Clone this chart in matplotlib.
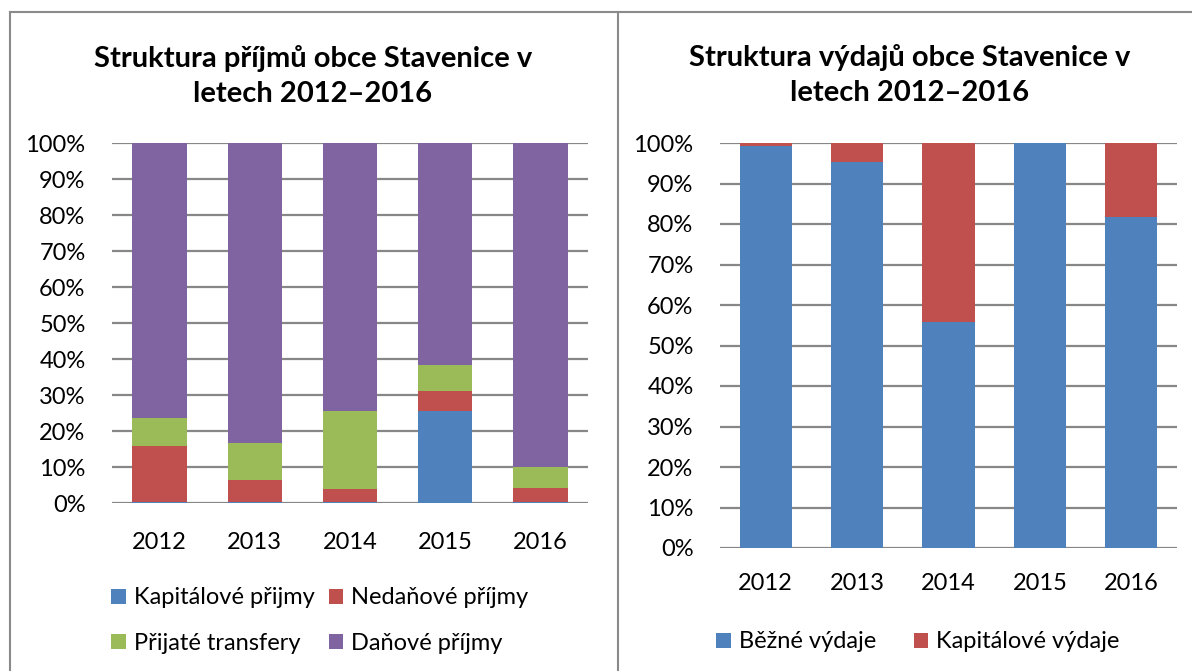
import numpy as np
import matplotlib.pyplot as plt
from matplotlib.lines import Line2D

# --- data (shares in %) ---
years = ["2012", "2013", "2014", "2015", "2016"]

# revenue structure
kapitalove_prijmy = [0.2, 0.3, 0.2, 25.5, 0.2]
nedanove_prijmy = [15.5, 6.2, 3.8, 5.7, 3.9]
prijate_transfery = [8.0, 10.3, 21.6, 7.2, 5.9]
danove_prijmy = [76.3, 83.2, 74.4, 61.6, 90.0]

# expenditure structure
bezne_vydaje = [99.2, 95.3, 55.7, 99.9, 81.8]
kapitalove_vydaje = [0.8, 4.7, 44.3, 0.1, 18.2]

BLUE, RED, GREEN, PURPLE = "#4F81BD", "#C0504D", "#9BBB59", "#8064A2"
GRID = "#878787"
FONT = "Lato"
TICK_FS = 17
TITLE_FS = 21

W, H = 1192, 671
fig = plt.figure(figsize=(W / 100, H / 100), dpi=100)


def fx(px):
    return px / W


def fy(py):
    return 1 - py / H


def style_axes(ax, xpad):
    ax.set_ylim(0, 100)
    ax.set_xlim(-0.5, 4.5)
    ax.set_yticks(np.arange(0, 101, 10))
    ax.set_yticklabels([f"{v}%" for v in range(0, 101, 10)], fontsize=TICK_FS, family=FONT)
    ax.set_xticks(range(len(years)))
    ax.set_xticklabels(years, fontsize=TICK_FS, family=FONT)
    ax.tick_params(length=0, pad=19)
    ax.tick_params(axis="x", pad=xpad)
    for s in ax.spines.values():
        s.set_visible(False)
    ax.yaxis.grid(True, color=GRID, lw=1.6)
    ax.set_axisbelow(True)


x = np.arange(len(years))
bw = 0.57

# --- left: revenues ---
ax1 = fig.add_axes([fx(112), fy(503), fx(588 - 112), (503 - 143) / H])
series1 = [(kapitalove_prijmy, BLUE, "Kapitálové přijmy"),
           (nedanove_prijmy, RED, "Nedaňové příjmy"),
           (prijate_transfery, GREEN, "Přijaté transfery"),
           (danove_prijmy, PURPLE, "Daňové příjmy")]
bottom = np.zeros(len(years))
bars1 = []
for vals, col, lab in series1:
    bars1.append(ax1.bar(x, vals, bw, bottom=bottom, color=col, label=lab, zorder=3))
    bottom += np.array(vals)
style_axes(ax1, 21)
# column-major fill -> rows: (kap, ned), (prij, dan)
order = [0, 2, 1, 3]
ax1.legend([bars1[i] for i in order], [series1[i][2] for i in order],
           loc="upper left", bbox_to_anchor=(fx(102), fy(578)),
           bbox_transform=fig.transFigure, ncol=2, frameon=False,
           prop={"family": FONT, "size": TICK_FS}, handlelength=0.6, handleheight=0.6,
           handletextpad=0.35, columnspacing=0.6, labelspacing=1.05, borderaxespad=0)
fig.text(fx(313), fy(76), "Struktura příjmů obce Stavenice v\nletech 2012–2016",
         ha="center", va="center", fontsize=TITLE_FS, fontweight="bold", family=FONT,
         linespacing=1.45)

# --- right: expenditures ---
ax2 = fig.add_axes([fx(720), fy(548), fx(1177 - 720), (548 - 143) / H])
series2 = [(bezne_vydaje, BLUE, "Běžné výdaje"),
           (kapitalove_vydaje, RED, "Kapitálové výdaje")]
bottom = np.zeros(len(years))
for vals, col, lab in series2:
    ax2.bar(x, vals, bw, bottom=bottom, color=col, label=lab, zorder=3)
    bottom += np.array(vals)
style_axes(ax2, 18)
ax2.legend(loc="upper left", bbox_to_anchor=(fx(707), fy(622)),
           bbox_transform=fig.transFigure, ncol=2, frameon=False,
           prop={"family": FONT, "size": TICK_FS}, handlelength=0.6, handleheight=0.6,
           handletextpad=0.35, columnspacing=1.6, borderaxespad=0)
fig.text(fx(910), fy(75), "Struktura výdajů obce Stavenice v\nletech 2012–2016",
         ha="center", va="center", fontsize=TITLE_FS, fontweight="bold", family=FONT,
         linespacing=1.45)

# panel borders
for xs, ys in [([10, W], [12, 12]), ([10, 10], [12, H]), ([618, 618], [12, H])]:
    fig.add_artist(Line2D([fx(v) for v in xs], [fy(v) for v in ys],
                          transform=fig.transFigure, color="#8a8a8a", lw=1.5))

fig.savefig("out.png", dpi=100)
